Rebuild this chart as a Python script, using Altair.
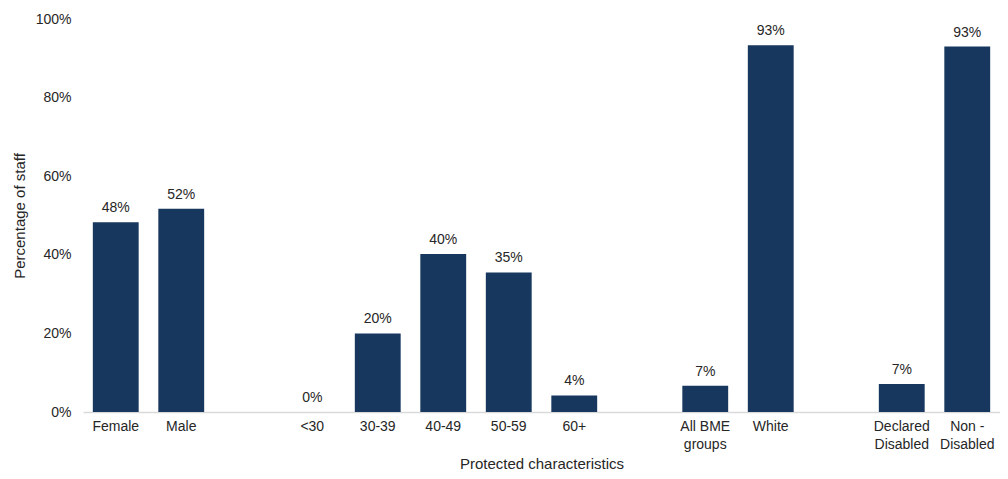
import altair as alt
import pandas as pd

categories = ["Female", "Male", " ", "<30", "30-39", "40-49", "50-59", "60+", "  ",
              "All BME|groups", "White", "   ", "Declared|Disabled", "Non -|Disabled"]
values = [48.3, 51.7, None, 0, 20.0, 40.2, 35.5, 4.2, None, 6.7, 93.3, None, 7.1, 93.0]
labels = ["48%", "52%", "", "0%", "20%", "40%", "35%", "4%", "", "7%", "93%", "", "7%", "93%"]

df = pd.DataFrame({"cat": categories, "val": values, "lab": labels})
df_bars = df[df["val"].notna()]

FONT = "Liberation Sans"
x = alt.X("cat:N", sort=categories, title="Protected characteristics",
          scale=alt.Scale(domain=categories, paddingInner=0.3, paddingOuter=0.15),
          axis=alt.Axis(labelAngle=0, ticks=False, domainColor="#d9d9d9", domainWidth=1.5,
                        labelExpr="split(datum.label, '|')", labelPadding=7,
                        labelFontSize=14, labelColor="#262626", labelFont=FONT,
                        titleFontSize=15, titleFontWeight="normal", titleColor="#262626",
                        titleFont=FONT, titlePadding=5, labelLineHeight=18))
y = alt.Y("val:Q", title="Percentage of staff",
          scale=alt.Scale(domain=[0, 100]),
          axis=alt.Axis(values=[0, 20, 40, 60, 80, 100], labelExpr="datum.value + '%'",
                        grid=False, ticks=False, domain=False, labelPadding=12,
                        labelFontSize=14, labelColor="#262626", labelFont=FONT,
                        titleFontSize=15, titleFontWeight="normal", titleColor="#262626",
                        titleFont=FONT, titlePadding=8))

bars = alt.Chart(df_bars).mark_bar(color="#17375E").encode(x=x, y=y)
text = alt.Chart(df_bars).mark_text(baseline="bottom", dy=-7, fontSize=14, font=FONT,
                                    color="#262626").encode(x=x, y=y, text="lab:N")

chart = (bars + text).properties(
    width=992, height=463,
    autosize=alt.AutoSizeParams(type="fit", contains="padding"),
    padding={"left": 4, "top": 4, "right": 0, "bottom": 0},
).configure_view(stroke=None)
chart.save("out.html", embed_options={"renderer": "svg", "actions": False})
